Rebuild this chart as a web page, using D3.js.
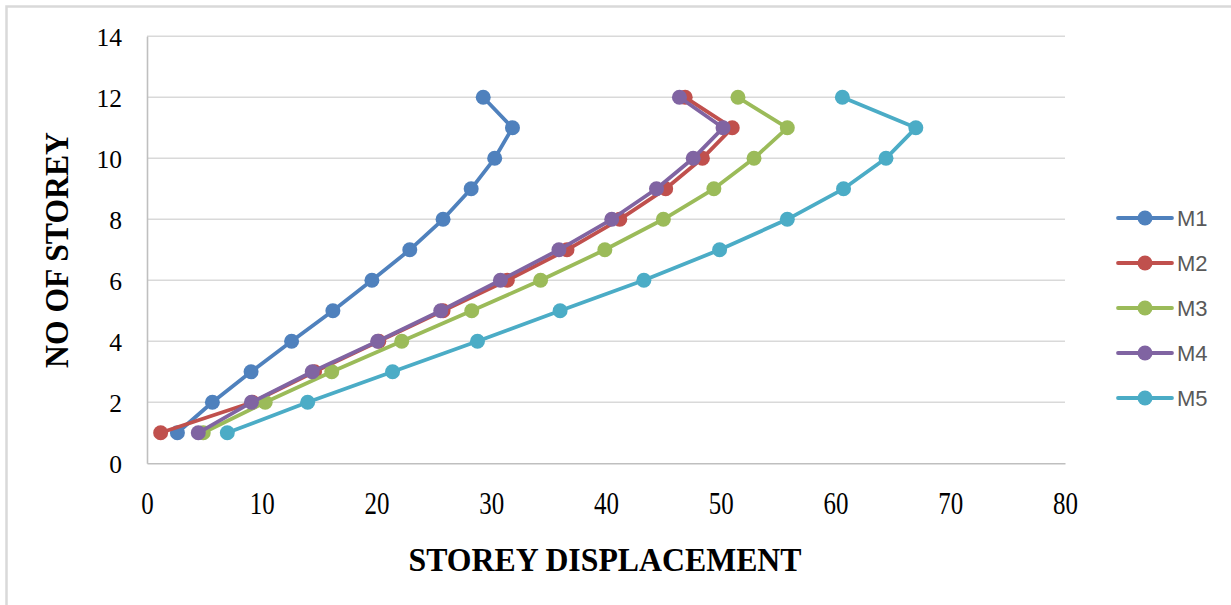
<!DOCTYPE html>
<html>
<head>
<meta charset="utf-8">
<script src="https://cdn.jsdelivr.net/npm/d3@7"></script>
<style>
  html, body { margin: 0; padding: 0; background: #fff; }
  svg { display: block; }
</style>
</head>
<body>
<svg id="chart" width="1231" height="605"></svg>
<script>
// Storey numbers (y) and lateral displacement per model (x)
const storeys = [1, 2, 3, 4, 5, 6, 7, 8, 9, 10, 11, 12];
const seriesNames = ["M1", "M2", "M3", "M4", "M5"];
const m1 = [2.65, 5.7, 9.07, 12.6, 16.2, 19.6, 22.9, 25.8, 28.25, 30.3, 31.85, 29.3];
const m2 = [1.19, 9.2, 14.6, 20.2, 25.8, 31.4, 36.6, 41.2, 45.2, 48.4, 51.0, 46.9];
const m3 = [4.9, 10.3, 16.1, 22.2, 28.3, 34.3, 39.9, 45.0, 49.4, 52.9, 55.8, 51.5];
const m4 = [4.47, 9.1, 14.4, 20.1, 25.6, 30.8, 35.9, 40.5, 44.4, 47.6, 50.2, 46.4];
const m5 = [7.0, 14.0, 21.4, 28.8, 36.0, 43.3, 49.9, 55.8, 60.7, 64.4, 67.0, 60.6];
const xTicks = [0, 10, 20, 30, 40, 50, 60, 70, 80];
const yTicks = [0, 2, 4, 6, 8, 10, 12, 14];
const colors = ["#4F81BD", "#C0504D", "#9BBB59", "#8064A2", "#4BACC6"];

const seriesValues = [m1, m2, m3, m4, m5];
const series = seriesNames.map((name, i) => ({
  name,
  color: colors[i],
  points: storeys.map((s, j) => ({ x: seriesValues[i][j], y: s }))
}));

const svg = d3.select("#chart");

// outer chart frame
svg.append("rect")
  .attr("x", 6.5).attr("y", 6.5)
  .attr("width", 1300).attr("height", 700)
  .attr("fill", "none").attr("stroke", "#D9D9D9").attr("stroke-width", 2.5);

const plot = { left: 147, right: 1065, top: 36.3, bottom: 463.3 };
const x = d3.scaleLinear().domain([0, 80]).range([plot.left, plot.right]);
const y = d3.scaleLinear().domain([0, 14]).range([plot.bottom, plot.top]);

// horizontal gridlines
svg.append("g")
  .selectAll("line")
  .data(yTicks.filter(d => d > 0))
  .join("line")
  .attr("x1", plot.left).attr("x2", plot.right)
  .attr("y1", d => y(d)).attr("y2", d => y(d))
  .attr("stroke", "#D9D9D9").attr("stroke-width", 1.5);

// x axis
const xAxis = svg.append("g")
  .attr("transform", `translate(0,${plot.bottom})`)
  .call(d3.axisBottom(x).tickValues(xTicks).tickSize(0).tickPadding(0));
xAxis.select(".domain").attr("stroke", "#BFBFBF").attr("stroke-width", 1.6);
xAxis.selectAll("text")
  .attr("font-family", "'Liberation Serif', 'Times New Roman', serif")
  .attr("font-size", 26)
  .attr("fill", "#000")
  .attr("dy", 0)
  .attr("y", 42.5)
  .attr("transform", "scale(0.96,1.2)");

// y axis
const yAxis = svg.append("g")
  .attr("transform", `translate(${plot.left},0)`)
  .call(d3.axisLeft(y).tickValues(yTicks).tickSize(0).tickPadding(0));
yAxis.select(".domain").attr("stroke", "#BFBFBF").attr("stroke-width", 1.6);
yAxis.selectAll("text")
  .attr("font-family", "'Liberation Serif', 'Times New Roman', serif")
  .attr("font-size", 25.5)
  .attr("fill", "#000")
  .attr("x", -25)
  .attr("dy", "0.36em");

// series: line then markers, drawn in order so later models sit on top
const line = d3.line().x(d => x(d.x)).y(d => y(d.y));
series.forEach(s => {
  const g = svg.append("g");
  g.append("path")
    .datum(s.points)
    .attr("d", line)
    .attr("fill", "none")
    .attr("stroke", s.color)
    .attr("stroke-width", 3.8)
    .attr("stroke-linejoin", "round");
  g.selectAll("circle")
    .data(s.points)
    .join("circle")
    .attr("cx", d => x(d.x))
    .attr("cy", d => y(d.y))
    .attr("r", 7.5)
    .attr("fill", s.color);
});

// axis titles
svg.append("text")
  .attr("x", 605).attr("y", 570.5)
  .attr("text-anchor", "middle")
  .attr("font-family", "'Liberation Serif', 'Times New Roman', serif")
  .attr("font-weight", "bold")
  .attr("font-size", 34)
  .attr("textLength", 393)
  .attr("lengthAdjust", "spacingAndGlyphs")
  .text("STOREY DISPLACEMENT");

svg.append("text")
  .attr("transform", "translate(67.5,250) rotate(-90)")
  .attr("text-anchor", "middle")
  .attr("font-family", "'Liberation Serif', 'Times New Roman', serif")
  .attr("font-weight", "bold")
  .attr("font-size", 33)
  .attr("textLength", 236)
  .attr("lengthAdjust", "spacingAndGlyphs")
  .text("NO OF STOREY");

// legend
const legend = svg.append("g");
const legendY = d3.scalePoint().domain(seriesNames).range([218, 398]);
series.forEach(s => {
  const ly = legendY(s.name);
  legend.append("line")
    .attr("x1", 1118).attr("x2", 1172)
    .attr("y1", ly).attr("y2", ly)
    .attr("stroke", s.color).attr("stroke-width", 3.8)
    .attr("stroke-linecap", "round");
  legend.append("circle")
    .attr("cx", 1145).attr("cy", ly).attr("r", 7.5)
    .attr("fill", s.color);
  legend.append("text")
    .attr("x", 1177).attr("y", ly)
    .attr("dy", "0.36em")
    .attr("font-family", "'Liberation Sans', Arial, sans-serif")
    .attr("font-size", 22)
    .attr("fill", "#595959")
    .text(s.name);
});
</script>
</body>
</html>
